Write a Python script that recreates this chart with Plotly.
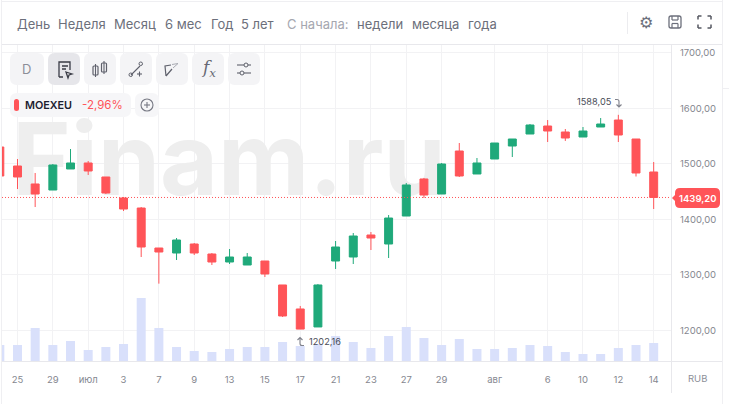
import plotly.graph_objects as go

W, H = 729, 404
L, R, T, B = 2, 58, 45, 43
PW, PH = W - L - R, H - T - B
FONT = "Inter"

# ---------- data ----------
idx = list(range(-1, 37))
open_ = [1530.1,1495.9,1463.5,1452.6,1490.5,1501.3,1476.1,1438.2,1420.2,1348.2,1339.2,1355.4,1337.4,1323,1317.6,1324.8,1281.6,1238.4,1206,1324.8,1332,1371.6,1355.4,1405.8,1472.5,1445.4,1522.9,1481.5,1508.5,1531.9,1553.5,1567.9,1557.1,1548.1,1566.1,1578.7,1544.5,1485.1]
close = [1477.9,1476.1,1445.4,1497.7,1501.3,1486.9,1447.2,1418.4,1350.0,1341,1362.6,1339.2,1323,1332,1332,1301.4,1225.8,1202.16,1281.6,1350,1369.8,1366.2,1402.2,1461.7,1443.6,1499.5,1477.9,1501.3,1537.3,1544.5,1569.7,1558.9,1546.3,1558.9,1571.5,1551.7,1483.3,1439.2]
high = [1530.1,1508.5,1483.3,1499.5,1526.5,1504.9,1476.1,1440.0,1422,1348.2,1366.2,1357.2,1339.2,1346.4,1339.2,1324.8,1281.6,1243.8,1283.4,1360.8,1375.2,1377.0,1407.6,1465.3,1474.3,1501.3,1537.3,1510.3,1537.3,1544.5,1571.5,1578.7,1562.5,1566.1,1582.3,1588.05,1544.5,1503.1]
low = [1477.9,1454.4,1422,1452.6,1490.5,1479.7,1445.4,1414.8,1332.0,1284,1326.6,1335.6,1317.6,1319.4,1317.6,1296,1224,1202.16,1206,1310.4,1319.4,1344.6,1330.2,1405.8,1438.2,1452.6,1476.1,1481.5,1508.5,1512.1,1553.5,1539.1,1541,1548.1,1566.1,1539.1,1477,1418.4]
volume = [160,160,330,160,200,110,140,170,630,330,140,100,90,120,140,140,190,150,170,250,190,130,250,340,230,160,220,120,120,130,160,150,90,70,70,130,160,180]

tick_index = [0,2,4,6,8,10,12,14,16,18,20,22,24,27,30,32,34,36]
tick_text = ["25","29","июл","3","7","9","13","15","17","21","23","27","29","авг","6","10","12","14"]
price_ticks = [1200,1300,1400,1500,1600,1700]
price_text = ["1200,00","1300,00","1400,00","1500,00","1600,00","1700,00"]
last_price = 1439.2
price_range = [1144.7, 1713.8]
x_range = [-0.877, 36.98]
volume_range = [0, 3160]
period_top = ["День","Неделя","Месяц","6 мес","Год","5 лет"]
period_top_x = [16,57,113,164,210,240]
since_labels = ["недели","месяца","года"]
since_x = [356,411,467]

RED, GREEN = "#FF5458", "#1FA97A"
GRID, BORDER = "#F2F2F4", "#E8E8EC"

def xp(px): return (px - L) / PW
def yp(py): return 1 - (py - T) / PH

def rrect(x0, y0, x1, y1, r):
    a, b, c, d = xp(x0), yp(y0), xp(x1), yp(y1)
    rx, ry = r / PW, r / PH
    return (f"M{a+rx},{b} L{c-rx},{b} Q{c},{b} {c},{b-ry} L{c},{d+ry} Q{c},{d} {c-rx},{d} "
            f"L{a+rx},{d} Q{a},{d} {a},{d+ry} L{a},{b-ry} Q{a},{b} {a+rx},{b} Z")

fig = go.Figure()
fig.add_trace(go.Scatter(x=[11.96], y=[1488], mode="text", text=["Finam.ru"], hoverinfo="skip",
                         textposition="middle center",
                         textfont=dict(family=FONT, size=100, color="#EEEEEE", weight=700),
                         xaxis="x", yaxis="y"))
fig.add_trace(go.Bar(x=idx, y=volume, marker=dict(color="#D9E0FB", line_width=0), xaxis="x", yaxis="y2"))
fig.add_trace(go.Candlestick(x=idx, open=open_, high=high, low=low, close=close, xaxis="x", yaxis="y3",
                             whiskerwidth=0,
                             increasing=dict(line=dict(color=GREEN, width=1), fillcolor=GREEN),
                             decreasing=dict(line=dict(color=RED, width=1), fillcolor=RED)))

shapes, ann = [], []

def line(x0, y0, x1, y1, color=BORDER, w=1):
    shapes.append(dict(type="line", xref="paper", yref="paper", x0=xp(x0), x1=xp(x1), y0=yp(y0), y1=yp(y1),
                       line=dict(color=color, width=w)))

def box(x0, y0, x1, y1, r, fill, stroke=None, w=1):
    shapes.append(dict(type="path", xref="paper", yref="paper", path=rrect(x0, y0, x1, y1, r),
                       fillcolor=fill, line=dict(color=stroke or fill, width=w if stroke else 0)))

def text(x, y, s, size=13, color="#6F7280", anchor="left", family=FONT, weight=400, style="normal"):
    ann.append(dict(xref="paper", yref="paper", x=xp(x), y=yp(y), text=s, showarrow=False, xanchor=anchor,
                    yanchor="middle", borderpad=0, align=anchor,
                    font=dict(family=family, size=size, color=color, weight=weight, style=style)))

def icon_path(points, color, w=1.2):
    d = " ".join(f"{c}{xp(a)},{yp(b)}" for c, a, b in points)
    shapes.append(dict(type="path", xref="paper", yref="paper", path=d, line=dict(color=color, width=w)))

# frame
line(1.5, 1.5, 722.5, 1.5, "#EFEFF2", 1)
line(1.5, 0, 1.5, 404, "#EFEFF2", 1)
line(722.5, 0, 722.5, 404, "#EFEFF2", 1)
line(2, 44.5, 722, 44.5)
line(2, 361.5, 722, 361.5)
line(671.5, 45, 671.5, 393)
line(722, 88.5, 729, 88.5, "#EFEFF2", 1)
line(627.5, 12, 627.5, 34, "#ECECEF", 1)

# last price dotted line
shapes.append(dict(type="line", xref="paper", yref="y", x0=0, x1=1, y0=last_price, y1=last_price,
                   line=dict(color=RED, width=1, dash="1px,2px")))

# header labels
for s, x in zip(period_top, period_top_x):
    text(x, 24, s, 13, "#6C6F7B")
text(286, 24, "С начала:", 13, "#A5A7B0")
for s, x in zip(since_labels, since_x):
    text(x, 24, s, 13, "#6C6F7B")

# tool buttons
btn_x = [10, 48, 84, 120, 156, 192, 228]
for i, x in enumerate(btn_x):
    box(x, 53, x + 34 if i == 0 else x + 32, 85, 7, "#E6E6EA" if i == 1 else "#F4F4F6")
text(26.5, 69, "D", 13, "#8C8E98", "center")
text(208, 69, "<i>f<sub>x</sub></i>", 17, "#666873", "center", "DejaVu Serif", 400)

ic = "#5F616C"
# note/cursor icon
shapes.append(dict(type="path", xref="paper", yref="paper", line=dict(color="#3A3C46", width=1.3),
    path=f"M{xp(59)},{yp(77)} L{xp(59)},{yp(62)} L{xp(70)},{yp(62)} L{xp(70)},{yp(70)} M{xp(59)},{yp(77)} L{xp(63)},{yp(77)} "
         f"M{xp(62)},{yp(66)} L{xp(68)},{yp(66)} M{xp(62)},{yp(69)} L{xp(66)},{yp(69)} M{xp(66)},{yp(72)} L{xp(72)},{yp(74)} L{xp(69)},{yp(75)} L{xp(68)},{yp(78)} Z"))
# candles icon
for a, b, c in [(93, 66, 75), (101.5, 63, 72)]:
    box(a, b, a + 5, c, 1, "rgba(0,0,0,0)", ic, 1.2)
    line(a + 2.5, b - 2, a + 2.5, c + 2, ic, 1.1)
# line tool
line(131, 75, 140, 66, ic, 1.1)
shapes.append(dict(type="circle", xref="paper", yref="paper", x0=xp(129), x1=xp(132.5), y0=yp(76.5), y1=yp(73), line=dict(color=ic, width=1)))
shapes.append(dict(type="circle", xref="paper", yref="paper", x0=xp(139), x1=xp(142.5), y0=yp(65.5), y1=yp(62), line=dict(color=ic, width=1)))
line(137, 74, 142, 74, ic, 1.1); line(139.5, 71.5, 139.5, 76.5, ic, 1.1)
# triangle tool
shapes.append(dict(type="path", xref="paper", yref="paper", line=dict(color=ic, width=1.2),
    path=f"M{xp(166)},{yp(76)} L{xp(165)},{yp(66)} L{xp(171)},{yp(65)} M{xp(166)},{yp(76)} L{xp(172)},{yp(69)}"))
line(172, 64.5, 178, 63.5, "#A9ABB3", 1)
line(173, 68, 178, 63.5, "#A9ABB3", 1)
# settings sliders
line(237, 65, 251, 65, ic, 1.1); line(237, 73, 251, 73, ic, 1.1)
shapes.append(dict(type="circle", xref="paper", yref="paper", x0=xp(244), x1=xp(248), y0=yp(67), y1=yp(63), fillcolor="#F4F4F6", line=dict(color=ic, width=1)))
shapes.append(dict(type="circle", xref="paper", yref="paper", x0=xp(240), x1=xp(244), y0=yp(75), y1=yp(71), fillcolor="#F4F4F6", line=dict(color=ic, width=1)))

# legend
box(10, 93, 131, 117, 7, "#F6F6F8")
box(14, 99, 19, 111, 2.5, RED)
text(24, 105, "MOEXEU", 10.8, "#1D2130", weight=600)
text(81, 105, "-2,96%", 11.5, RED)
box(135, 93, 159, 117, 7, "#F6F6F8")
shapes.append(dict(type="circle", xref="paper", yref="paper", x0=xp(141), x1=xp(153), y0=yp(111), y1=yp(99), line=dict(color="#777984", width=1.1)))
line(144, 105, 150, 105, "#777984", 1.1); line(147, 102, 147, 108, "#777984", 1.1)

# header right icons
text(646, 22, "⚙", 16, "#6C6F7B", "center", "DejaVu Sans")
box(669, 16, 681, 28, 2, "rgba(0,0,0,0)", "#6C6F7B", 1.3)
line(672, 16, 672, 20, "#6C6F7B", 1.2); line(678, 16, 678, 20, "#6C6F7B", 1.2); line(672, 20, 678, 20, "#6C6F7B", 1.2)
line(672, 28, 672, 23.5, "#6C6F7B", 1.2); line(678, 28, 678, 23.5, "#6C6F7B", 1.2); line(672, 23.5, 678, 23.5, "#6C6F7B", 1.2)
for cx, cy, dx, dy in [(698, 16, 1, 1), (711, 16, -1, 1), (698, 28, 1, -1), (711, 28, -1, -1)]:
    line(cx, cy, cx + 3.5 * dx, cy, "#555761", 1.5)
    line(cx, cy, cx, cy + 3.5 * dy, "#555761", 1.5)

# last price tag
shapes.append(dict(type="path", xref="paper", yref="paper", fillcolor=RED, line=dict(width=0),
    path=f"M{xp(672)},{yp(198)} L{xp(677)},{yp(193)} L{xp(677)},{yp(203)} Z"))
box(675, 188, 720, 208, 5, RED)
text(697, 198, "1439,20", 9.5, "white", "center", weight=600)
text(697, 378, "RUB", 9.5, "#8C8E98", "center")

# extremes
ann.append(dict(x=34, y=1588.05, xref="x", yref="y", text="1588,05", showarrow=False, xanchor="right", yanchor="middle",
                xshift=-4, yshift=13, font=dict(family=FONT, size=9.2, color="#4A4C57")))
ann.append(dict(x=16, y=1202.16, xref="x", yref="y", text="1202,16", showarrow=False, xanchor="left", yanchor="middle",
                xshift=7, yshift=-12, font=dict(family=FONT, size=9.2, color="#4A4C57")))
ac = "#80828C"
icon_path([("M", 615, 99.5), ("L", 617, 99.5), ("Q", 619, 99.5), ("", 619, 101.5), ("L", 619, 107),
           ("M", 616.5, 104.5), ("L", 619, 107), ("L", 621.5, 104.5)], ac, 1.1)
icon_path([("M", 304, 345.5), ("L", 302, 345.5), ("Q", 300, 345.5), ("", 300, 343.5), ("L", 300, 337.5),
           ("M", 297.5, 340), ("L", 300, 337.5), ("L", 302.5, 340)], ac, 1.1)

fig.update_layout(
    width=W, height=H, autosize=False, margin=dict(l=L, r=R, t=T, b=B), showlegend=False,
    paper_bgcolor="white", plot_bgcolor="white", bargap=0.49, boxgap=0.55, boxgroupgap=0,
    font=dict(family=FONT, size=10, color="#8C8E98"), shapes=shapes, annotations=ann,
    xaxis=dict(range=x_range, tickmode="array", tickvals=tick_index, ticktext=tick_text, showgrid=True,
               gridcolor=GRID, gridwidth=1, zeroline=False, showline=False, ticks="", ticklabelstandoff=11,
               rangeslider=dict(visible=False), tickfont=dict(size=9.5, color="#85878F")),
    yaxis=dict(range=price_range, side="right", tickmode="array", tickvals=price_ticks, ticktext=price_text,
               showgrid=True, gridcolor=GRID, gridwidth=1, zeroline=False, showline=False, ticks="",
               ticklabelstandoff=8, tickfont=dict(size=9.5, color="#85878F")),
    yaxis2=dict(range=volume_range, overlaying="y", side="right", showgrid=False, zeroline=False, showticklabels=False, ticks=""),
    yaxis3=dict(range=price_range, overlaying="y", side="right", showgrid=False, zeroline=False, showticklabels=False, ticks=""),
)
fig.write_html("out.html", config=dict(displayModeBar=False),
               post_script="document.body.style.margin='0';document.body.style.overflow='hidden';")
